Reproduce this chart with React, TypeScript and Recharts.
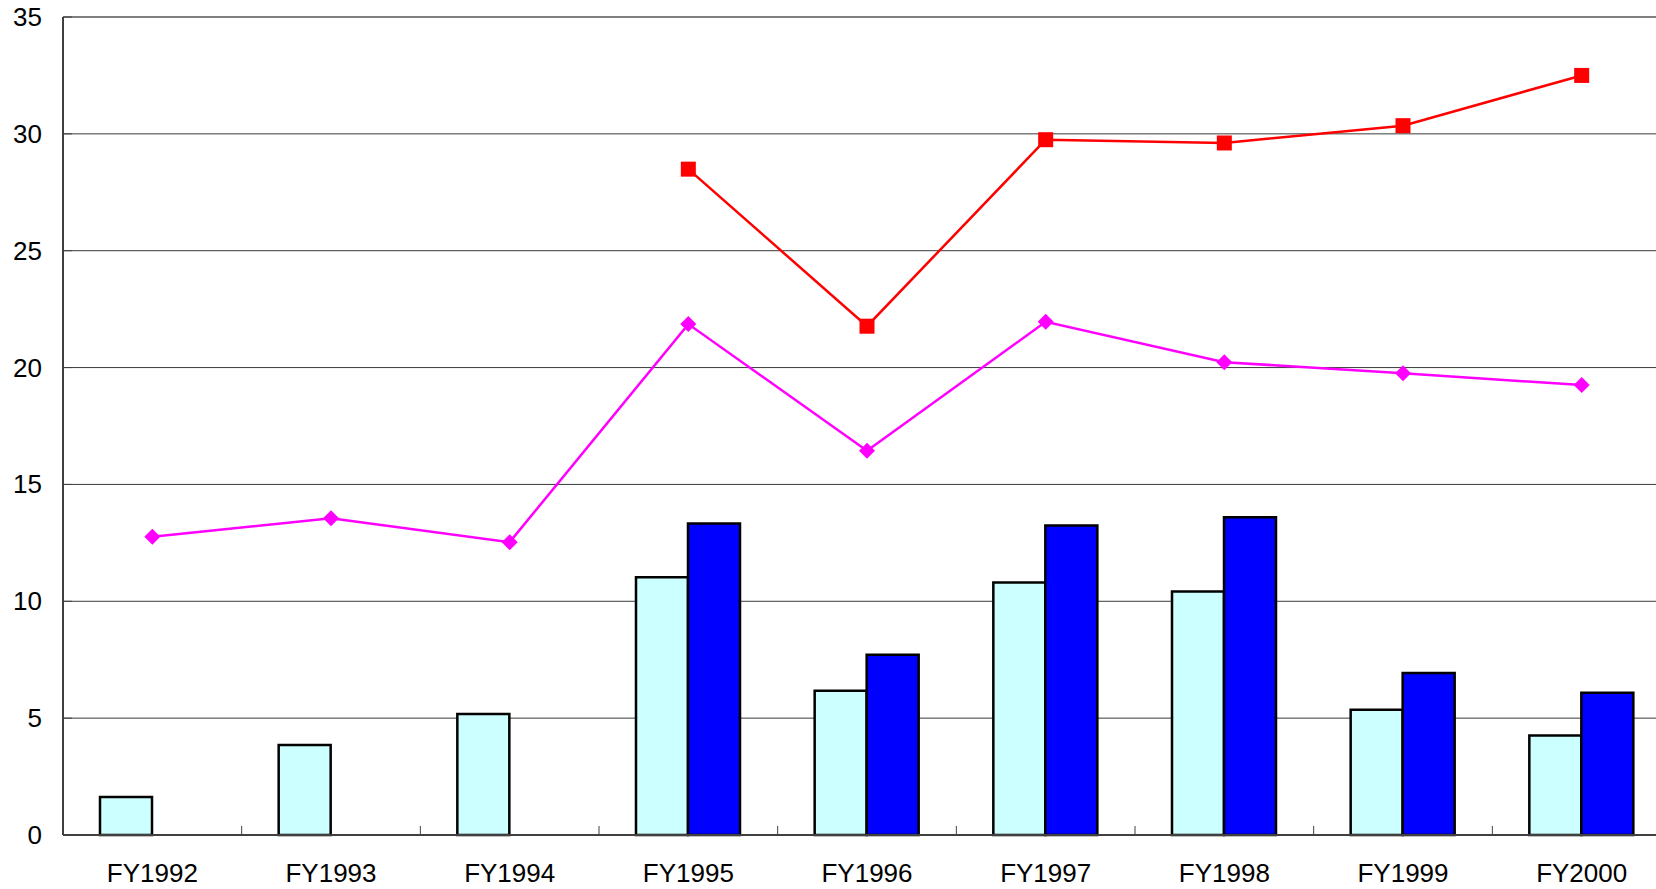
import React from 'react';
import { ComposedChart, Bar, Line, XAxis, YAxis, CartesianGrid, ReferenceLine } from 'recharts';

const years = ['FY1992', 'FY1993', 'FY1994', 'FY1995', 'FY1996', 'FY1997', 'FY1998', 'FY1999', 'FY2000'];
const lightBars = [1.63, 3.85, 5.18, 11.03, 6.17, 10.8, 10.42, 5.36, 4.26];
const darkBars = [null, null, null, 13.33, 7.71, 13.24, 13.6, 6.93, 6.09];
const diamondLine = [12.76, 13.55, 12.53, 21.86, 16.44, 21.96, 20.23, 19.76, 19.25];
const squareLine = [null, null, null, 28.49, 21.77, 29.75, 29.61, 30.35, 32.5];
const yTicks = [0, 5, 10, 15, 20, 25, 30, 35];

const data = years.map((year, i) => ({
  year,
  light: lightBars[i],
  dark: darkBars[i],
  diamond: diamondLine[i],
  square: squareLine[i],
}));

const CHART_W = 1680;
const CHART_H = 889;
const MARGIN = { top: 17, right: 9, left: 0, bottom: 0 };
const Y_AXIS_W = 63;
const X_AXIS_H = 54;
const BAND = (CHART_W - MARGIN.left - MARGIN.right - Y_AXIS_W) / years.length;
const FONT = '"Liberation Sans", Arial, sans-serif';

const YTick = (props: any) => {
  const { x, y, payload } = props;
  return (
    <g>
      <line x1={x} x2={x + 9} y1={y} y2={y} stroke="#404040" strokeWidth={1} />
      <text x={x - 21} y={y} textAnchor="end" dominantBaseline="central" fontSize={26} fontFamily={FONT} fill="#000">
        {payload.value}
      </text>
    </g>
  );
};

const XTick = (props: any) => {
  const { x, y, payload } = props;
  const bx = x - BAND / 2;
  return (
    <g>
      <line x1={bx} x2={bx} y1={y} y2={y - 9} stroke="#404040" strokeWidth={1} />
      <text x={x} y={y + 38} textAnchor="middle" dominantBaseline="central" fontSize={26} fontFamily={FONT} fill="#000">
        {payload.value}
      </text>
    </g>
  );
};

const SquareDot = (props: any) => {
  const { cx, cy, value } = props;
  if (value == null || cx == null || cy == null) return <g key={props.key} />;
  return <rect key={props.key} x={cx - 7.5} y={cy - 7.5} width={15} height={15} fill="#FF0000" />;
};

const DiamondDot = (props: any) => {
  const { cx, cy, value } = props;
  if (value == null || cx == null || cy == null) return <g key={props.key} />;
  const r = 8;
  return (
    <polygon
      key={props.key}
      points={`${cx},${cy - r} ${cx + r},${cy} ${cx},${cy + r} ${cx - r},${cy}`}
      fill="#FF00FF"
    />
  );
};

export default function App() {
  return (
    <div style={{ position: 'absolute', left: 0, top: 0, width: 1656, height: 889, overflow: 'hidden', background: '#fff' }}>
      <ComposedChart width={CHART_W} height={CHART_H} data={data} margin={MARGIN} barGap={0}>
        <CartesianGrid horizontal vertical={false} stroke="#3a3a3a" strokeWidth={1} />
        <ReferenceLine y={35} stroke="#808080" strokeWidth={2} />
        <XAxis
          dataKey="year"
          height={X_AXIS_H}
          tickSize={0}
          tickMargin={0}
          tickLine={false}
          axisLine={{ stroke: '#404040', strokeWidth: 2 }}
          tick={<XTick />}
          interval={0}
        />
        <YAxis
          width={Y_AXIS_W}
          domain={[0, 35]}
          ticks={yTicks}
          tickSize={0}
          tickMargin={0}
          tickLine={false}
          axisLine={{ stroke: '#404040', strokeWidth: 2 }}
          tick={<YTick />}
          interval={0}
        />
        <Bar dataKey="light" barSize={52} fill="#CCFFFF" stroke="#000" strokeWidth={2.5} isAnimationActive={false} />
        <Bar dataKey="dark" barSize={52} fill="#0000FF" stroke="#000" strokeWidth={2.5} isAnimationActive={false} />
        <Line
          dataKey="diamond"
          stroke="#FF00FF"
          strokeWidth={2.5}
          dot={<DiamondDot />}
          activeDot={false}
          isAnimationActive={false}
        />
        <Line
          dataKey="square"
          stroke="#FF0000"
          strokeWidth={2.5}
          dot={<SquareDot />}
          activeDot={false}
          isAnimationActive={false}
        />
      </ComposedChart>
    </div>
  );
}
